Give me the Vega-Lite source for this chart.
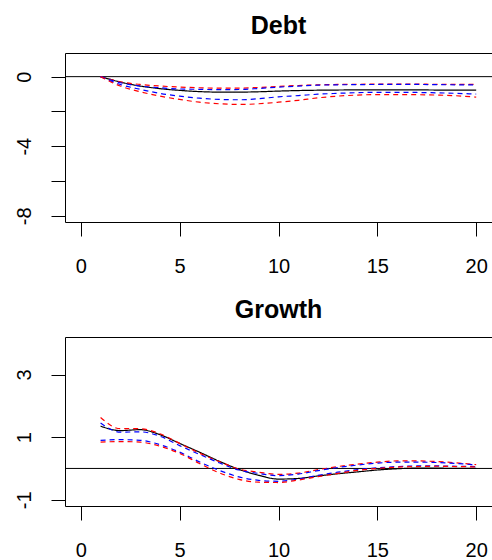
{
  "$schema": "https://vega.github.io/schema/vega-lite/v6.json",
  "padding": {"left": 0, "top": 13, "right": 0, "bottom": 0},
  "spacing": 20,
  "config": {
    "font": "Liberation Sans",
    "view": {"stroke": "black", "strokeWidth": 1},
    "axis": {
      "grid": false,
      "domain": false,
      "tickColor": "black",
      "tickSize": 14,
      "labelColor": "black",
      "labelFont": "Liberation Sans",
      "labelFontSize": 20,
      "title": null
    },
    "axisX": {"labelPadding": 20, "labelFlush": false},
    "axisY": {"labelPadding": 21, "labelAngle": -90, "labelAlign": "center", "labelBaseline": "alphabetic", "minExtent": 64, "maxExtent": 64},
    "title": {"font": "Liberation Sans", "fontSize": 25, "fontWeight": "bold", "color": "black", "anchor": "middle", "baseline": "alphabetic", "offset": 14, "frame": "group"}
  },
  "datasets": {
    "debt": [
      {"horizon": 1, "series": "irf", "value": 0}, {"horizon": 2, "series": "irf", "value": -0.31}, {"horizon": 3, "series": "irf", "value": -0.54}, {"horizon": 4, "series": "irf", "value": -0.69}, {"horizon": 5, "series": "irf", "value": -0.79}, {"horizon": 6, "series": "irf", "value": -0.86}, {"horizon": 7, "series": "irf", "value": -0.89}, {"horizon": 8, "series": "irf", "value": -0.89}, {"horizon": 9, "series": "irf", "value": -0.87}, {"horizon": 10, "series": "irf", "value": -0.83}, {"horizon": 11, "series": "irf", "value": -0.8}, {"horizon": 12, "series": "irf", "value": -0.78}, {"horizon": 13, "series": "irf", "value": -0.77}, {"horizon": 14, "series": "irf", "value": -0.76}, {"horizon": 15, "series": "irf", "value": -0.76}, {"horizon": 16, "series": "irf", "value": -0.76}, {"horizon": 17, "series": "irf", "value": -0.76}, {"horizon": 18, "series": "irf", "value": -0.77}, {"horizon": 19, "series": "irf", "value": -0.77}, {"horizon": 20, "series": "irf", "value": -0.78},
      {"horizon": 1, "series": "hi_r", "value": 0}, {"horizon": 2, "series": "hi_r", "value": -0.3}, {"horizon": 3, "series": "hi_r", "value": -0.45}, {"horizon": 4, "series": "hi_r", "value": -0.54}, {"horizon": 5, "series": "hi_r", "value": -0.6}, {"horizon": 6, "series": "hi_r", "value": -0.64}, {"horizon": 7, "series": "hi_r", "value": -0.66}, {"horizon": 8, "series": "hi_r", "value": -0.66}, {"horizon": 9, "series": "hi_r", "value": -0.62}, {"horizon": 10, "series": "hi_r", "value": -0.56}, {"horizon": 11, "series": "hi_r", "value": -0.51}, {"horizon": 12, "series": "hi_r", "value": -0.47}, {"horizon": 13, "series": "hi_r", "value": -0.45}, {"horizon": 14, "series": "hi_r", "value": -0.44}, {"horizon": 15, "series": "hi_r", "value": -0.43}, {"horizon": 16, "series": "hi_r", "value": -0.43}, {"horizon": 17, "series": "hi_r", "value": -0.43}, {"horizon": 18, "series": "hi_r", "value": -0.44}, {"horizon": 19, "series": "hi_r", "value": -0.44}, {"horizon": 20, "series": "hi_r", "value": -0.45},
      {"horizon": 1, "series": "hi_b", "value": 0}, {"horizon": 2, "series": "hi_b", "value": -0.35}, {"horizon": 3, "series": "hi_b", "value": -0.54}, {"horizon": 4, "series": "hi_b", "value": -0.64}, {"horizon": 5, "series": "hi_b", "value": -0.71}, {"horizon": 6, "series": "hi_b", "value": -0.73}, {"horizon": 7, "series": "hi_b", "value": -0.75}, {"horizon": 8, "series": "hi_b", "value": -0.74}, {"horizon": 9, "series": "hi_b", "value": -0.68}, {"horizon": 10, "series": "hi_b", "value": -0.6}, {"horizon": 11, "series": "hi_b", "value": -0.54}, {"horizon": 12, "series": "hi_b", "value": -0.49}, {"horizon": 13, "series": "hi_b", "value": -0.47}, {"horizon": 14, "series": "hi_b", "value": -0.46}, {"horizon": 15, "series": "hi_b", "value": -0.45}, {"horizon": 16, "series": "hi_b", "value": -0.45}, {"horizon": 17, "series": "hi_b", "value": -0.45}, {"horizon": 18, "series": "hi_b", "value": -0.46}, {"horizon": 19, "series": "hi_b", "value": -0.47}, {"horizon": 20, "series": "hi_b", "value": -0.48},
      {"horizon": 1, "series": "lo_b", "value": 0}, {"horizon": 2, "series": "lo_b", "value": -0.45}, {"horizon": 3, "series": "lo_b", "value": -0.73}, {"horizon": 4, "series": "lo_b", "value": -0.96}, {"horizon": 5, "series": "lo_b", "value": -1.12}, {"horizon": 6, "series": "lo_b", "value": -1.24}, {"horizon": 7, "series": "lo_b", "value": -1.31}, {"horizon": 8, "series": "lo_b", "value": -1.33}, {"horizon": 9, "series": "lo_b", "value": -1.27}, {"horizon": 10, "series": "lo_b", "value": -1.16}, {"horizon": 11, "series": "lo_b", "value": -1.09}, {"horizon": 12, "series": "lo_b", "value": -1.01}, {"horizon": 13, "series": "lo_b", "value": -0.96}, {"horizon": 14, "series": "lo_b", "value": -0.92}, {"horizon": 15, "series": "lo_b", "value": -0.9}, {"horizon": 16, "series": "lo_b", "value": -0.9}, {"horizon": 17, "series": "lo_b", "value": -0.91}, {"horizon": 18, "series": "lo_b", "value": -0.93}, {"horizon": 19, "series": "lo_b", "value": -0.96}, {"horizon": 20, "series": "lo_b", "value": -1.0},
      {"horizon": 1, "series": "lo_r", "value": 0}, {"horizon": 2, "series": "lo_r", "value": -0.54}, {"horizon": 3, "series": "lo_r", "value": -0.87}, {"horizon": 4, "series": "lo_r", "value": -1.12}, {"horizon": 5, "series": "lo_r", "value": -1.31}, {"horizon": 6, "series": "lo_r", "value": -1.47}, {"horizon": 7, "series": "lo_r", "value": -1.56}, {"horizon": 8, "series": "lo_r", "value": -1.6}, {"horizon": 9, "series": "lo_r", "value": -1.56}, {"horizon": 10, "series": "lo_r", "value": -1.47}, {"horizon": 11, "series": "lo_r", "value": -1.36}, {"horizon": 12, "series": "lo_r", "value": -1.22}, {"horizon": 13, "series": "lo_r", "value": -1.12}, {"horizon": 14, "series": "lo_r", "value": -1.06}, {"horizon": 15, "series": "lo_r", "value": -1.03}, {"horizon": 16, "series": "lo_r", "value": -1.03}, {"horizon": 17, "series": "lo_r", "value": -1.04}, {"horizon": 18, "series": "lo_r", "value": -1.06}, {"horizon": 19, "series": "lo_r", "value": -1.1}, {"horizon": 20, "series": "lo_r", "value": -1.18}
    ],
    "growth": [
      {"horizon": 1, "series": "irf", "value": 1.35}, {"horizon": 2, "series": "irf", "value": 1.21}, {"horizon": 3, "series": "irf", "value": 1.24}, {"horizon": 4, "series": "irf", "value": 1.08}, {"horizon": 5, "series": "irf", "value": 0.8}, {"horizon": 6, "series": "irf", "value": 0.52}, {"horizon": 7, "series": "irf", "value": 0.23}, {"horizon": 8, "series": "irf", "value": -0.03}, {"horizon": 9, "series": "irf", "value": -0.22}, {"horizon": 10, "series": "irf", "value": -0.34}, {"horizon": 11, "series": "irf", "value": -0.32}, {"horizon": 12, "series": "irf", "value": -0.24}, {"horizon": 13, "series": "irf", "value": -0.17}, {"horizon": 14, "series": "irf", "value": -0.11}, {"horizon": 15, "series": "irf", "value": -0.05}, {"horizon": 16, "series": "irf", "value": -0.01}, {"horizon": 17, "series": "irf", "value": 0.01}, {"horizon": 18, "series": "irf", "value": 0.01}, {"horizon": 19, "series": "irf", "value": 0.0}, {"horizon": 20, "series": "irf", "value": 0.0},
      {"horizon": 1, "series": "hi_r", "value": 1.63}, {"horizon": 2, "series": "hi_r", "value": 1.27}, {"horizon": 3, "series": "hi_r", "value": 1.27}, {"horizon": 4, "series": "hi_r", "value": 1.11}, {"horizon": 5, "series": "hi_r", "value": 0.8}, {"horizon": 6, "series": "hi_r", "value": 0.49}, {"horizon": 7, "series": "hi_r", "value": 0.22}, {"horizon": 8, "series": "hi_r", "value": -0.02}, {"horizon": 9, "series": "hi_r", "value": -0.12}, {"horizon": 10, "series": "hi_r", "value": -0.19}, {"horizon": 11, "series": "hi_r", "value": -0.15}, {"horizon": 12, "series": "hi_r", "value": -0.04}, {"horizon": 13, "series": "hi_r", "value": 0.06}, {"horizon": 14, "series": "hi_r", "value": 0.14}, {"horizon": 15, "series": "hi_r", "value": 0.2}, {"horizon": 16, "series": "hi_r", "value": 0.24}, {"horizon": 17, "series": "hi_r", "value": 0.24}, {"horizon": 18, "series": "hi_r", "value": 0.22}, {"horizon": 19, "series": "hi_r", "value": 0.18}, {"horizon": 20, "series": "hi_r", "value": 0.12},
      {"horizon": 1, "series": "hi_b", "value": 1.45}, {"horizon": 2, "series": "hi_b", "value": 1.16}, {"horizon": 3, "series": "hi_b", "value": 1.17}, {"horizon": 4, "series": "hi_b", "value": 1.03}, {"horizon": 5, "series": "hi_b", "value": 0.73}, {"horizon": 6, "series": "hi_b", "value": 0.45}, {"horizon": 7, "series": "hi_b", "value": 0.18}, {"horizon": 8, "series": "hi_b", "value": -0.05}, {"horizon": 9, "series": "hi_b", "value": -0.16}, {"horizon": 10, "series": "hi_b", "value": -0.23}, {"horizon": 11, "series": "hi_b", "value": -0.18}, {"horizon": 12, "series": "hi_b", "value": -0.07}, {"horizon": 13, "series": "hi_b", "value": 0.03}, {"horizon": 14, "series": "hi_b", "value": 0.11}, {"horizon": 15, "series": "hi_b", "value": 0.17}, {"horizon": 16, "series": "hi_b", "value": 0.2}, {"horizon": 17, "series": "hi_b", "value": 0.2}, {"horizon": 18, "series": "hi_b", "value": 0.19}, {"horizon": 19, "series": "hi_b", "value": 0.16}, {"horizon": 20, "series": "hi_b", "value": 0.11},
      {"horizon": 1, "series": "lo_b", "value": 0.9}, {"horizon": 2, "series": "lo_b", "value": 0.92}, {"horizon": 3, "series": "lo_b", "value": 0.9}, {"horizon": 4, "series": "lo_b", "value": 0.76}, {"horizon": 5, "series": "lo_b", "value": 0.52}, {"horizon": 6, "series": "lo_b", "value": 0.21}, {"horizon": 7, "series": "lo_b", "value": -0.06}, {"horizon": 8, "series": "lo_b", "value": -0.27}, {"horizon": 9, "series": "lo_b", "value": -0.38}, {"horizon": 10, "series": "lo_b", "value": -0.41}, {"horizon": 11, "series": "lo_b", "value": -0.34}, {"horizon": 12, "series": "lo_b", "value": -0.22}, {"horizon": 13, "series": "lo_b", "value": -0.12}, {"horizon": 14, "series": "lo_b", "value": -0.04}, {"horizon": 15, "series": "lo_b", "value": 0.02}, {"horizon": 16, "series": "lo_b", "value": 0.06}, {"horizon": 17, "series": "lo_b", "value": 0.08}, {"horizon": 18, "series": "lo_b", "value": 0.08}, {"horizon": 19, "series": "lo_b", "value": 0.07}, {"horizon": 20, "series": "lo_b", "value": 0.06},
      {"horizon": 1, "series": "lo_r", "value": 0.84}, {"horizon": 2, "series": "lo_r", "value": 0.86}, {"horizon": 3, "series": "lo_r", "value": 0.84}, {"horizon": 4, "series": "lo_r", "value": 0.71}, {"horizon": 5, "series": "lo_r", "value": 0.48}, {"horizon": 6, "series": "lo_r", "value": 0.16}, {"horizon": 7, "series": "lo_r", "value": -0.14}, {"horizon": 8, "series": "lo_r", "value": -0.35}, {"horizon": 9, "series": "lo_r", "value": -0.44}, {"horizon": 10, "series": "lo_r", "value": -0.45}, {"horizon": 11, "series": "lo_r", "value": -0.37}, {"horizon": 12, "series": "lo_r", "value": -0.26}, {"horizon": 13, "series": "lo_r", "value": -0.16}, {"horizon": 14, "series": "lo_r", "value": -0.06}, {"horizon": 15, "series": "lo_r", "value": 0.0}, {"horizon": 16, "series": "lo_r", "value": 0.04}, {"horizon": 17, "series": "lo_r", "value": 0.06}, {"horizon": 18, "series": "lo_r", "value": 0.07}, {"horizon": 19, "series": "lo_r", "value": 0.06}, {"horizon": 20, "series": "lo_r", "value": 0.05}
    ]
  },
  "vconcat": [
    {
      "title": "Debt",
      "width": 427,
      "height": 169,
      "layer": [
        {
          "data": {"values": [{"level": 0}]},
          "mark": {"type": "rule", "color": "black", "strokeWidth": 1},
          "encoding": {"y": {"field": "level", "type": "quantitative"}}
        },
        {
          "data": {"name": "debt"},
          "mark": {"type": "line", "strokeWidth": 1.2, "interpolate": "monotone"},
          "encoding": {
            "x": {"field": "horizon", "type": "quantitative", "scale": {"domain": [-0.8, 20.8], "nice": false, "zero": false}, "axis": {"values": [0, 5, 10, 15, 20]}},
            "y": {"field": "value", "type": "quantitative", "scale": {"domain": [-8.36, 1.36], "nice": false, "zero": false}, "axis": {"values": [0, -2, -4, -6, -8], "labelExpr": "datum.value % 4 === 0 ? '' + datum.value : ''"}},
            "color": {"field": "series", "type": "nominal", "scale": {"domain": ["irf", "hi_r", "hi_b", "lo_b", "lo_r"], "range": ["black", "red", "blue", "blue", "red"]}, "legend": null},
            "strokeDash": {"field": "series", "type": "nominal", "scale": {"domain": ["irf", "hi_r", "hi_b", "lo_b", "lo_r"], "range": [[1, 0], [5, 4], [5, 4], [5, 4], [5, 4]]}, "legend": null}
          }
        }
      ]
    },
    {
      "title": "Growth",
      "width": 427,
      "height": 169,
      "layer": [
        {
          "data": {"values": [{"level": 0}]},
          "mark": {"type": "rule", "color": "black", "strokeWidth": 1},
          "encoding": {"y": {"field": "level", "type": "quantitative"}}
        },
        {
          "data": {"name": "growth"},
          "mark": {"type": "line", "strokeWidth": 1.2, "interpolate": "monotone"},
          "encoding": {
            "x": {"field": "horizon", "type": "quantitative", "scale": {"domain": [-0.8, 20.8], "nice": false, "zero": false}, "axis": {"values": [0, 5, 10, 15, 20]}},
            "y": {"field": "value", "type": "quantitative", "scale": {"domain": [-1.2, 4.2], "nice": false, "zero": false}, "axis": {"values": [-1, 0, 1, 2, 3, 4], "labelExpr": "abs(datum.value) % 2 === 1 ? '' + datum.value : ''"}},
            "color": {"field": "series", "type": "nominal", "scale": {"domain": ["irf", "hi_r", "hi_b", "lo_b", "lo_r"], "range": ["black", "red", "blue", "blue", "red"]}, "legend": null},
            "strokeDash": {"field": "series", "type": "nominal", "scale": {"domain": ["irf", "hi_r", "hi_b", "lo_b", "lo_r"], "range": [[1, 0], [5, 4], [5, 4], [5, 4], [5, 4]]}, "legend": null}
          }
        }
      ]
    }
  ]
}
